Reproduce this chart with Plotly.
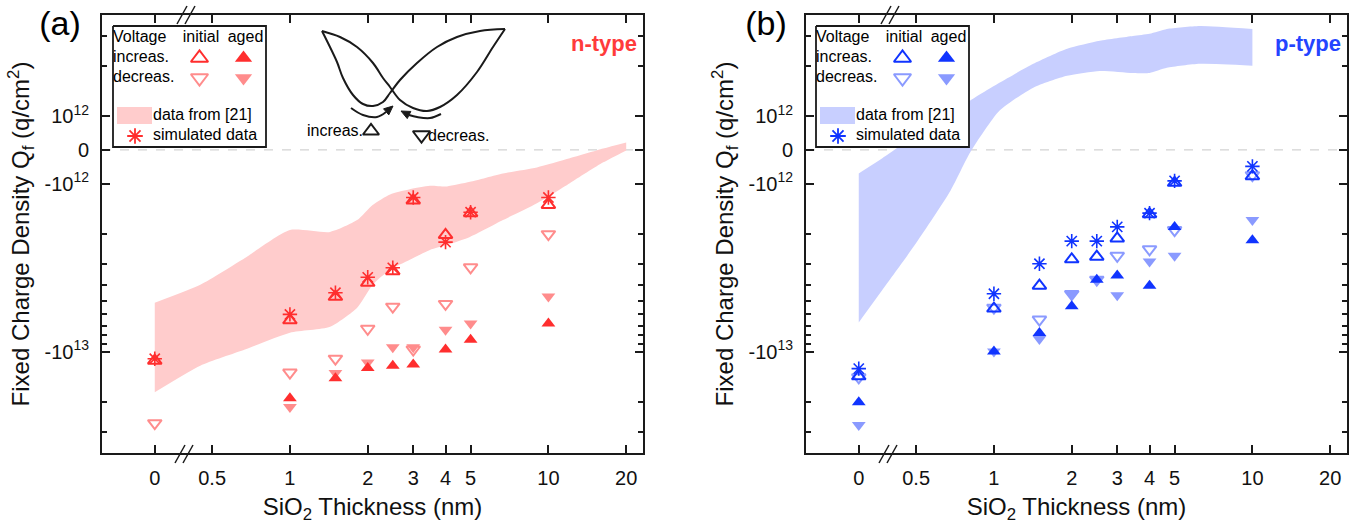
import numpy as np
import plotly.graph_objects as go

W, H = 1353, 528
FONT = "Arial, Liberation Sans, sans-serif"

# ---------------------------------------------------------------- data
thickness = [0, 1, 1.5, 2, 2.5, 3, 4, 5, 10]          # SiO2 thickness (nm)
ZERO_POS = 0.30                                        # where 0 nm sits left of the axis break

x_ticks = [0, 0.5, 1, 2, 3, 4, 5, 10, 20]
x_ticklabels = ["0", "0.5", "1", "2", "3", "4", "5", "10", "20"]
y_ticks = [1e12, 0, -1e12, -1e13]
y_ticklabels = ["10<sup>12</sup>", "0", "-10<sup>12</sup>", "-10<sup>13</sup>"]
y_minor = [3e12, 2e12, -2e12, -3e12, -4e12, -5e12, -6e12, -7e12, -8e12, -9e12, -2e13, -3e13]

# n-type fixed charge density Qf (q/cm^2)
n_sim      = [-1.10e13, -6.0e12, -4.46e12, -3.61e12, -3.17e12, -1.21e12, -2.23e12, -1.48e12, -1.21e12]
n_init_inc = [-1.13e13, -6.5e12, -4.71e12, -3.89e12, -3.32e12, -1.26e12, -2.02e12, -1.50e12, -1.34e12]
n_init_dec = [-2.66e13, -1.33e13, -1.10e13, -7.3e12, -5.4e12, -9.7e12, -5.2e12, -3.15e12, -2.0e12]
n_aged_inc = [None, -1.89e13, -1.44e13, -1.25e13, -1.21e13, -1.19e13, -9.7e12, -8.5e12, -6.8e12]
n_aged_dec = [None, -2.13e13, -1.34e13, -1.16e13, -9.4e12, -9.4e12, -7.4e12, -6.8e12, -4.7e12]

# p-type fixed charge density Qf (q/cm^2)
p_sim      = [-1.26e13, -4.52e12, -3.00e12, -2.20e12, -2.20e12, -1.81e12, -1.50e12, -0.92e12, -0.49e12]
p_init_inc = [-1.40e13, -5.54e12, -4.05e12, -2.82e12, -2.72e12, -2.12e12, -1.52e12, -0.98e12, -0.78e12]
p_init_dec = [-1.42e13, -5.47e12, -6.44e12, -4.54e12, -3.73e12, -2.69e12, -2.46e12, -1.89e12, -0.75e12]
p_aged_inc = [-2.00e13, -9.96e12, -7.74e12, -5.37e12, -3.73e12, -3.52e12, -4.05e12, -1.81e12, -2.17e12]
p_aged_dec = [-2.73e13, -9.96e12, -8.40e12, -4.54e12, -3.73e12, -4.62e12, -2.91e12, -2.69e12, -1.65e12]

# literature ranges, data from [21]
band_n_x  = [0, 0.45, 0.67, 1, 1.43, 1.82, 2.09, 2.44, 2.91, 3.48, 4.05, 4.97, 6.67, 9.03, 12.1, 16.3, 20]
band_n_hi = [-5.11e12, -4.0e12, -2.77e12, -1.89e12, -1.94e12, -1.65e12, -1.34e12, -1.16e12, -1.08e12,
             -1.03e12, -1.04e12, -0.95e12, -0.70e12, -0.52e12, -0.25e12, 0.04e12, 0.22e12]
band_n_lo = [-1.74e13, -1.21e13, -9.7e12, -7.7e12, -7.1e12, -5.47e12, -4.0e12, -3.26e12, -2.84e12,
             -2.48e12, -2.32e12, -2.08e12, -1.65e12, -1.31e12, -0.99e12, -0.37e12, -0.015e12]

band_p_x  = [0, 0.37, 0.5, 0.68, 0.81, 1.05, 1.42, 1.92, 2.57, 3.45, 4.0, 4.67, 6.26, 10]
band_p_hi = [-0.70e12, -0.25e12, 0.44e12, 1.04e12, 1.24e12, 1.58e12, 2.05e12, 2.52e12, 2.81e12,
             3.0e12, 3.09e12, 3.30e12, 3.44e12, 3.30e12]
band_p_lo = [-6.7e12, -4.3e12, -2.26e12, -1.10e12, -0.07e12, 1.08e12, 1.48e12, 1.74e12, 1.86e12,
             1.81e12, 1.81e12, 1.94e12, 2.05e12, 2.0e12]

# ---------------------------------------------------------------- colours
RED, RED_L, RED_BAND = "#FF2E2E", "#FF8C8C", "#FFCCCC"
BLUE, BLUE_L, BLUE_BAND = "#1034FF", "#8A9AFF", "#C8CFFF"
AX = "#1a1a1a"

# ---------------------------------------------------------------- scales
LIN = 1e12   # linear between -1e12 and 1e12, logarithmic outside
K = 5.0      # length of one decade relative to the linear unit


def sym(v):
    v = np.asarray([np.nan if a is None else a for a in np.atleast_1d(v)], float)
    a = np.abs(v)
    out = np.where(a <= LIN, v / LIN, np.sign(v) * (1 + K * np.log10(np.maximum(a, LIN) / LIN)))
    return [None if np.isnan(o) else float(o) for o in out]


def xpos(t):
    return [ZERO_POS if v == 0 else v for v in t]


fig = go.Figure()


def panel(xa, ya, bx, blo, bhi, band_col, strong, light, sim, ii, idc, ai, ad):
    fig.add_trace(go.Scatter(x=xpos(bx), y=sym(blo), mode="lines", line=dict(width=0, shape="spline", smoothing=0.6),
                             xaxis=xa, yaxis=ya, hoverinfo="skip"))
    fig.add_trace(go.Scatter(x=xpos(bx), y=sym(bhi), mode="lines", line=dict(width=0, shape="spline", smoothing=0.6),
                             fill="tonexty", fillcolor=band_col, xaxis=xa, yaxis=ya, hoverinfo="skip"))
    xs = xpos(thickness)
    specs = [
        (idc, "triangle-down-open", light, 12, 2),
        (ii, "triangle-up-open", strong, 12, 2),
        (ad, "triangle-down", light, 12, 0),
        (ai, "triangle-up", strong, 12, 0),
        (sim, "asterisk-open", strong, 12, 1.6),
    ]
    for vals, sym_name, col, size, lw in specs:
        fig.add_trace(go.Scatter(x=xs, y=sym(vals), mode="markers", xaxis=xa, yaxis=ya,
                                 marker=dict(symbol=sym_name, size=size, color=col,
                                             line=dict(color=col, width=lw))))


panel("x", "y", band_n_x, band_n_lo, band_n_hi, RED_BAND, RED, RED_L,
      n_sim, n_init_inc, n_init_dec, n_aged_inc, n_aged_dec)
panel("x2", "y2", band_p_x, band_p_lo, band_p_hi, BLUE_BAND, BLUE, BLUE_L,
      p_sim, p_init_inc, p_init_dec, p_aged_inc, p_aged_dec)

# ---------------------------------------------------------------- overlay drawing (pixel space)


def px_line(xs, ys, color=AX, width=2, shape="linear", fill=None, fillcolor=None):
    fig.add_trace(go.Scatter(x=xs, y=ys, mode="lines", xaxis="x3", yaxis="y3", hoverinfo="skip",
                             line=dict(color=color, width=width, shape=shape),
                             fill=fill, fillcolor=fillcolor))


def px_marker(x, y, symbol, color, size=15, lw=2):
    fig.add_trace(go.Scatter(x=[x], y=[y], mode="markers", xaxis="x3", yaxis="y3", hoverinfo="skip",
                             marker=dict(symbol=symbol, size=size, color=color,
                                         line=dict(color=color, width=lw))))


def text(x, y, s, size=16, color="black", align="left"):
    pos = {"left": "middle right", "center": "middle center", "right": "middle left"}[align]
    fig.add_trace(go.Scatter(x=[x], y=[y], mode="text", text=[s], textposition=pos,
                             xaxis="x3", yaxis="y3", hoverinfo="skip",
                             textfont=dict(family=FONT, size=size, color=color)))


def legend_block(dx, strong, light, band_col):
    x0, x1, y0, y1 = 113 + dx, 266 + dx, 26, 147
    px_line([x0, x1, x1, x0, x0], [y0, y0, y1, y1, y0], color=AX, width=1.8, fill="toself", fillcolor="white")
    px_line([117 + dx, 152 + dx, 152 + dx, 117 + dx, 117 + dx], [107, 107, 124, 124, 107],
            color=band_col, width=0, fill="toself", fillcolor=band_col)
    px_marker(199.5 + dx, 58, "triangle-up-open", strong)
    px_marker(243.5 + dx, 58, "triangle-up", strong, lw=0)
    px_marker(199.5 + dx, 78, "triangle-down-open", light)
    px_marker(243.5 + dx, 78, "triangle-down", light, lw=0)
    px_marker(135 + dx, 136, "asterisk-open", strong, size=13, lw=1.8)
    text(113 + dx, 38, "Voltage")
    text(201 + dx, 38, "initial", align="center")
    text(245.5 + dx, 38, "aged", align="center")
    text(113 + dx, 58, "increas.")
    text(113 + dx, 78, "decreas.")
    text(153 + dx, 116, "data from [21]")
    text(153 + dx, 136, "simulated data")


def arrow_head(tip, prev, length=9, half=4):
    d = np.array(tip, float) - np.array(prev, float)
    d /= np.linalg.norm(d)
    n = np.array([-d[1], d[0]])
    base = np.array(tip) - length * d
    a, b = base + half * n, base - half * n
    px_line([tip[0], a[0], b[0], tip[0]], [tip[1], a[1], b[1], tip[1]], color=AX, width=1,
            fill="toself", fillcolor=AX)


# axis break marks
for dx in (0, 704):
    px_line([175 + dx, 185 + dx, None, 183 + dx, 193 + dx], [463, 445, None, 463, 445], width=1.5)
    px_line([177 + dx, 187 + dx, None, 185 + dx, 195 + dx], [24, 6, None, 24, 6], width=1.5)

legend_block(0, RED, RED_L, RED_BAND)
legend_block(703, BLUE, BLUE_L, BLUE_BAND)

# butterfly C-V schematic
lobe_a_x = [322, 328, 337, 343, 353, 363, 373, 383, 390, 400, 417, 437, 457, 480, 505]
lobe_a_y = [31, 43, 62, 78, 95, 104, 106, 102, 93, 80, 63, 47, 37, 31, 29]
lobe_b_x = [322, 340, 357, 373, 383, 390, 400, 413, 427, 440, 457, 477, 493, 505]
lobe_b_y = [31, 37, 47, 63, 78, 87, 100, 108, 111, 107, 95, 72, 47, 29]
px_line(lobe_a_x, lobe_a_y, width=2, shape="spline")
px_line(lobe_b_x, lobe_b_y, width=2, shape="spline")
px_line([351, 363, 377, 386], [108, 115, 117, 112], width=2, shape="spline")
arrow_head((393, 106), (386, 112))
px_line([441, 430, 417, 409], [114, 118, 117, 115], width=2, shape="spline")
arrow_head((401, 111), (409, 115))
text(335, 132, "increas.", align="center")
px_marker(371, 131, "triangle-up-open", AX, size=14)
px_marker(421.5, 135, "triangle-down-open", AX, size=15)
text(428, 137, "decreas.")

# panel labels and doping type labels
text(60, 26, "(a)", size=34, align="center")
text(766, 26, "(b)", size=34, align="center")
text(637, 45, "<b>n-type</b>", size=22, color="#FF3B3B", align="right")
text(1341, 45, "<b>p-type</b>", size=22, color="#2444FF", align="right")

# ---------------------------------------------------------------- axes
ydom = [1 - 453 / H, 1 - 15 / H]
xr = [-0.727, 1.366]
XTITLE = "SiO<sub>2</sub> Thickness (nm)"
YTITLE = "Fixed Charge Density Q<sub>f</sub> (q/cm<sup>2</sup>)"


def xaxis_cfg(dom, anchor):
    return dict(domain=dom, anchor=anchor, type="log", range=xr, tickmode="array",
                tickvals=xpos(x_ticks), ticktext=x_ticklabels, ticks="inside", ticklen=8, tickwidth=1.6,
                tickcolor=AX, showline=True, linewidth=2, linecolor=AX, mirror="ticks", showgrid=False,
                zeroline=False, tickfont=dict(family=FONT, size=20, color="#111"), ticklabelstandoff=6,
                title=dict(text=XTITLE, standoff=10, font=dict(family=FONT, size=24, color="#111")))


def yaxis_cfg(anchor):
    return dict(domain=ydom, anchor=anchor, range=[sym(-4e13)[0], sym(4e12)[0]], tickmode="array",
                tickvals=sym(y_ticks), ticktext=y_ticklabels, ticks="inside", ticklen=8, tickwidth=1.6,
                tickcolor=AX, showline=True, linewidth=2, linecolor=AX, mirror="ticks", showgrid=False,
                zeroline=False, tickfont=dict(family=FONT, size=20, color="#111"), ticklabelstandoff=7,
                title=dict(text=YTITLE, standoff=8, font=dict(family=FONT, size=24, color="#111")),
                minor=dict(tickmode="array", tickvals=sym(y_minor), ticks="inside", ticklen=5,
                           tickwidth=1.6, tickcolor=AX, showgrid=False))


shapes = []
for xa, ya in (("x", "y"), ("x2", "y2")):
    shapes.append(dict(type="line", xref=f"{xa} domain", yref=ya, x0=0, x1=1, y0=0, y1=0, layer="below",
                       line=dict(color="#C8C8C8", width=1, dash="dash")))

fig.update_layout(
    width=W, height=H, margin=dict(l=0, r=0, t=0, b=0),
    paper_bgcolor="white", plot_bgcolor="rgba(0,0,0,0)", showlegend=False,
    font=dict(family=FONT, size=16, color="#111"),
    xaxis=xaxis_cfg([102 / W, 643 / W], "y"),
    yaxis=yaxis_cfg("x"),
    xaxis2=xaxis_cfg([806 / W, 1347 / W], "y2"),
    yaxis2=yaxis_cfg("x2"),
    xaxis3=dict(domain=[0, 1], range=[0, W], visible=False, anchor="y3", fixedrange=True),
    yaxis3=dict(domain=[0, 1], range=[H, 0], visible=False, anchor="x3", fixedrange=True),
    shapes=shapes,
)

fig.write_html("out.html")
